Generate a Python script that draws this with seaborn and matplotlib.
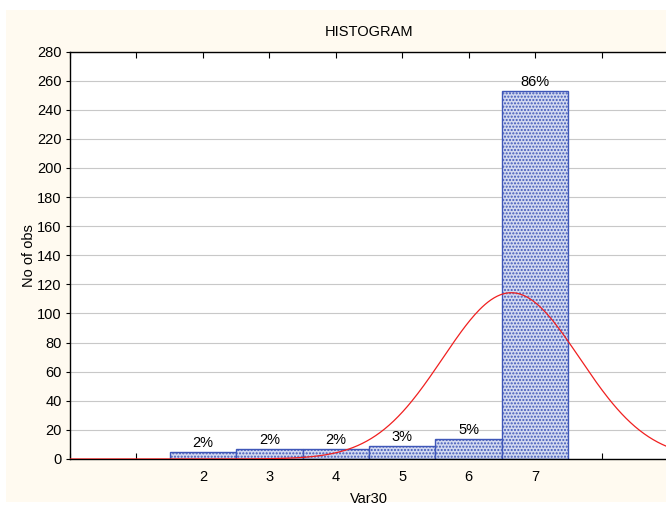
import numpy as np
import pandas as pd
import matplotlib
matplotlib.use("Agg")
import matplotlib.pyplot as plt
import seaborn as sns
from matplotlib.patches import Rectangle

# ---- data ----
categories = [2, 3, 4, 5, 6, 7]
counts = [5, 7, 7, 9, 14, 253]
pct_labels = ["2%", "2%", "2%", "3%", "5%", "86%"]
x_ticks = [0, 1, 2, 3, 4, 5, 6, 7, 8, 9]
x_ticklabels = ["", "", "2", "3", "4", "5", "6", "7", "", ""]
y_ticks = list(range(0, 281, 20))

sns.set_theme(style="white")
plt.rcParams["font.family"] = ["Liberation Sans", "DejaVu Sans"]
plt.rcParams["text.color"] = "black"
plt.rcParams["axes.labelcolor"] = "black"

FS = 10.5

fig = plt.figure(figsize=(6.66, 5.08), dpi=100, facecolor="white")
# cream panel background
fig.patches.append(Rectangle((6 / 666, 1 - 502 / 508), (666 - 6) / 666, (502 - 10) / 508,
                             transform=fig.transFigure, facecolor="#FFFAF0",
                             edgecolor="none", zorder=-10))

ax = fig.add_axes([70 / 666, (508 - 459) / 508, (668 - 70) / 666, (459 - 51.5) / 508])
ax.set_zorder(1)
ax.set_facecolor("white")

df = pd.DataFrame({"Var30": categories, "count": counts})
sns.histplot(data=df, x="Var30", weights="count", discrete=True, ax=ax,
             facecolor="#D2D9F0", edgecolor="#3F57B8", linewidth=1.0,
             hatch=".....", alpha=1.0, zorder=2)

# normal curve fitted to the data
vals = np.repeat(categories, counts)
mu = vals.mean()
sd = vals.std(ddof=1)
n = len(vals)
xs = np.linspace(0, 9, 400)
ys = n * 1.0 * np.exp(-0.5 * ((xs - mu) / sd) ** 2) / (sd * np.sqrt(2 * np.pi))
sns.lineplot(x=xs, y=ys, ax=ax, color="#F02020", linewidth=0.9, zorder=4)

for c, h, lab in zip(categories, counts, pct_labels):
    ax.text(c, h + 1.0, lab, ha="center", va="bottom", fontsize=FS, color="black", zorder=5)

ax.set_xlim(0, 9)
ax.set_ylim(0, 280)
ax.set_xticks(x_ticks)
ax.set_xticklabels(x_ticklabels, fontsize=FS)
ax.set_yticks(y_ticks)
ax.set_yticklabels([str(v) for v in y_ticks], fontsize=FS)
ax.yaxis.grid(True, color="#C8C8C8", linewidth=0.8, zorder=1)
ax.xaxis.grid(False)
ax.set_axisbelow(True)

ax.tick_params(axis="x", which="both", direction="in", top=True, bottom=True,
               length=4, width=0.8, colors="black", pad=8)
ax.tick_params(axis="y", which="both", direction="out", left=True, right=False,
               length=3, width=0.8, colors="black", pad=3)
for s in ax.spines.values():
    s.set_color("black")
    s.set_linewidth(1.0)

ax.set_xlabel("Var30", fontsize=FS, labelpad=6)
ax.set_ylabel("No of obs", fontsize=FS, labelpad=1)
ax.set_title("HISTOGRAM", fontsize=FS, pad=11)

fig.savefig("out.png", dpi=100, facecolor="white")
